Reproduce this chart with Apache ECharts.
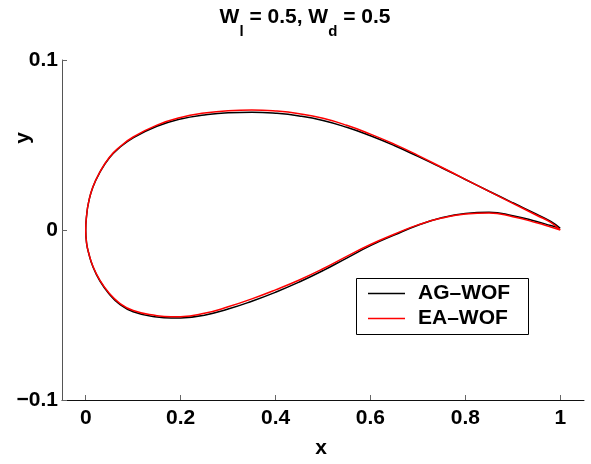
<!DOCTYPE html>
<html>
<head>
<meta charset="utf-8">
<script src="https://cdn.jsdelivr.net/npm/echarts@6/dist/echarts.min.js"></script>
<style>
  html, body { margin: 0; padding: 0; background: #fff; }
  #chart { width: 591px; height: 464px; }
</style>
</head>
<body>
<div id="chart"></div>
<script>
// Two optimised airfoil contours (chord-normalised coordinates).
const seriesNames = ['AG–WOF', 'EA–WOF'];

// Upper surface stations, trailing edge -> leading edge
const upperX   = [1.000, 0.980, 0.950, 0.900, 0.850, 0.800, 0.750, 0.700, 0.650, 0.600, 0.550, 0.500, 0.450, 0.400, 0.350, 0.300, 0.250, 0.200, 0.150, 0.100, 0.070, 0.050, 0.030, 0.015, 0.006, 0.002, 0.000];
const agUpperY = [0.0010, 0.0050, 0.0093, 0.0160, 0.0228, 0.0297, 0.0366, 0.0433, 0.0497, 0.0554, 0.0604, 0.0644, 0.0671, 0.0687, 0.0693, 0.0690, 0.0677, 0.0653, 0.0610, 0.0542, 0.0481, 0.0425, 0.0340, 0.0252, 0.0162, 0.0088, 0.0000];
const eaUpperY = [0.0000, 0.0045, 0.0087, 0.0157, 0.0227, 0.0298, 0.0369, 0.0439, 0.0505, 0.0564, 0.0616, 0.0657, 0.0684, 0.0700, 0.0706, 0.0702, 0.0688, 0.0662, 0.0617, 0.0547, 0.0485, 0.0428, 0.0342, 0.0253, 0.0163, 0.0089, 0.0000];

// Lower surface stations, leading edge -> trailing edge
const lowerX   = [0.000, 0.002, 0.006, 0.015, 0.030, 0.050, 0.070, 0.100, 0.150, 0.180, 0.200, 0.250, 0.300, 0.350, 0.400, 0.450, 0.500, 0.550, 0.600, 0.650, 0.700, 0.750, 0.800, 0.850, 0.900, 0.950, 0.980, 1.000];
const agLowerY = [0.0000, -0.0081, -0.0134, -0.0215, -0.0300, -0.0378, -0.0433, -0.0481, -0.0512, -0.0518, -0.0517, -0.0501, -0.0465, -0.0419, -0.0366, -0.0306, -0.0239, -0.0165, -0.0092, -0.0030, 0.0028, 0.0072, 0.0097, 0.0104, 0.0084, 0.0050, 0.0026, 0.0010];
const eaLowerY = [0.0000, -0.0080, -0.0132, -0.0212, -0.0296, -0.0373, -0.0427, -0.0474, -0.0504, -0.0511, -0.0510, -0.0490, -0.0452, -0.0405, -0.0352, -0.0294, -0.0228, -0.0155, -0.0085, -0.0025, 0.0030, 0.0070, 0.0094, 0.0100, 0.0078, 0.0043, 0.0018, 0.0000];

// Axis ticks
const xTickValues = [0, 0.2, 0.4, 0.6, 0.8, 1];
const xTickLabels = ['0', '0.2', '0.4', '0.6', '0.8', '1'];
const yTickValues = [-0.1, 0, 0.1];
const yTickLabels = ['−0.1', '0', '0.1'];

// Closed contour: upper surface then lower surface (leading-edge point shared)
function contour(ux, uy, lx, ly) {
  const pts = ux.map((x, i) => [x, uy[i]]);
  for (let i = 1; i < lx.length; i++) pts.push([lx[i], ly[i]]);
  return pts;
}

function lookupLabel(values, labels, v) {
  for (let i = 0; i < values.length; i++) {
    if (Math.abs(values[i] - v) < 1e-9) return labels[i];
  }
  return '';
}

const FONT = 'Liberation Sans, Arial, Helvetica, sans-serif';
const chart = echarts.init(document.getElementById('chart'), null, { renderer: 'canvas' });

chart.setOption({
  animation: false,
  backgroundColor: '#fff',
  textStyle: { fontFamily: FONT },
  grid: { left: 62, right: 7, top: 60, bottom: 64 },
  xAxis: {
    type: 'value',
    min: -0.05,
    max: 1.05,
    axisLine: { show: true, onZero: false, lineStyle: { color: '#111', width: 1 } },
    axisTick: { show: true, inside: true, length: 5, customValues: xTickValues, lineStyle: { color: '#666' } },
    axisLabel: {
      show: true, margin: 8, customValues: xTickValues,
      color: '#000', fontSize: 21, fontWeight: 'bold', fontFamily: FONT, lineHeight: 21,
      formatter: v => lookupLabel(xTickValues, xTickLabels, v)
    },
    splitLine: { show: false }
  },
  yAxis: {
    type: 'value',
    min: -0.1,
    max: 0.1,
    interval: 0.1,
    axisLine: { show: true, onZero: false, lineStyle: { color: '#555', width: 1 } },
    axisTick: { show: true, inside: true, length: 5, lineStyle: { color: '#666' } },
    axisLabel: {
      show: true, margin: 4,
      color: '#000', fontSize: 21, fontWeight: 'bold', fontFamily: FONT,
      formatter: v => lookupLabel(yTickValues, yTickLabels, v)
    },
    splitLine: { show: false }
  },
  legend: {
    show: true,
    orient: 'vertical',
    left: 368,
    top: 283,
    padding: 0,
    icon: 'rect',
    itemWidth: 37,
    itemHeight: 1.5,
    itemGap: 4,
    z: 10,
    data: seriesNames,
    formatter: name => '{t|' + name + '}',
    textStyle: {
      color: '#000', fontSize: 21, fontWeight: 'bold', fontFamily: FONT, lineHeight: 21,
      rich: { t: { color: '#000', fontSize: 21, fontWeight: 'bold', fontFamily: FONT, lineHeight: 21, padding: [0, 0, 0, 8] } }
    }
  },
  graphic: [
    {
      type: 'rect', z: 5,
      shape: { x: 356.5, y: 278.5, width: 172, height: 56 },
      style: { fill: '#fff', stroke: '#000', lineWidth: 1 }
    },
    {
      type: 'text', z: 5,
      x: 305, y: 7,
      style: {
        text: '{b|W}{s|l}{b| = 0.5, W}{s|d}{b| = 0.5}',
        align: 'center', verticalAlign: 'top',
        rich: {
          b: { fontSize: 21, fontWeight: 'bold', fontFamily: FONT, fill: '#000', lineHeight: 24, verticalAlign: 'top' },
          s: { fontSize: 15, fontWeight: 'bold', fontFamily: FONT, fill: '#000', lineHeight: 15, verticalAlign: 'top', padding: [17, 0, 0, 0] }
        }
      }
    },
    {
      type: 'text', z: 5,
      x: 321, y: 448,
      style: { text: 'x', fontSize: 21, fontWeight: 'bold', fontFamily: FONT, fill: '#000', align: 'center', verticalAlign: 'middle' }
    },
    {
      type: 'text', z: 5,
      x: 23, y: 138, rotation: Math.PI / 2,
      style: { text: 'y', fontSize: 21, fontWeight: 'bold', fontFamily: FONT, fill: '#000', align: 'center', verticalAlign: 'middle' }
    }
  ],
  series: [
    {
      name: seriesNames[0],
      type: 'line',
      data: contour(upperX, agUpperY, lowerX, agLowerY),
      symbol: 'none',
      smooth: 0.5,
      lineStyle: { color: '#000', width: 1.5 },
      itemStyle: { color: '#000' },
      emphasis: { disabled: true },
      z: 2
    },
    {
      name: seriesNames[1],
      type: 'line',
      data: contour(upperX, eaUpperY, lowerX, eaLowerY),
      symbol: 'none',
      smooth: 0.5,
      lineStyle: { color: '#ff0000', width: 1.5 },
      itemStyle: { color: '#ff0000' },
      emphasis: { disabled: true },
      z: 3
    }
  ]
});
</script>
</body>
</html>
